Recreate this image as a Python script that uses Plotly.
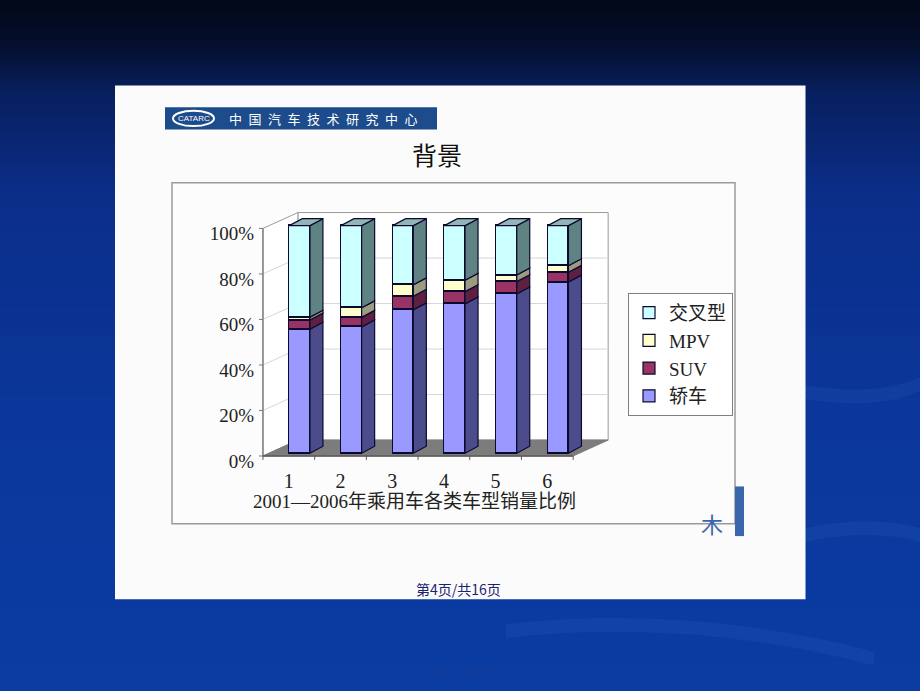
import plotly.graph_objects as go

# ---------------- data ----------------
categories = ["1", "2", "3", "4", "5", "6"]
series_names = ["轿车", "SUV", "MPV", "交叉型"]
sedan = [54.5, 55.5, 63.0, 65.6, 70.0, 75.2]
suv = [4.0, 4.2, 6.0, 5.4, 5.4, 4.3]
mpv = [1.3, 4.2, 5.0, 5.0, 2.9, 2.9]
crossover = [40.2, 36.1, 26.0, 24.0, 21.7, 17.6]
y_ticks = [0, 20, 40, 60, 80, 100]
y_tick_text = ["0%", "20%", "40%", "60%", "80%", "100%"]
x_title = "2001—2006年乘用车各类车型销量比例"

front_colors = ["#9999ff", "#993366", "#ffffcc", "#ccffff"]
side_colors = ["#4c4c8c", "#5e1f40", "#9c9c7e", "#5f8282"]
top_color = "#94b5b5"
edge = "#0a0a30"

W, H = 920, 691

# ---------------- pixel <-> axis geometry (style) ----------------
XC0, XS = 299.6, 51.7      # px of first bar centre, px per category
Y0, YS = 456.5, 2.292      # px of 0 %, px per percent
DOM_X = (255, 625)
DOM_Y = (203, 470)
xrange_ = [(DOM_X[0] - XC0) / XS, (DOM_X[1] - XC0) / XS]
yrange_ = [(Y0 - DOM_Y[1]) / YS, (Y0 - DOM_Y[0]) / YS]

BW = 0.2                    # half bar width (category units)
DDX, DDY = 13 / XS, 7 / YS  # bar depth
WDX, WDY = 35 / XS, 16 / YS  # wall depth
FS = -10.8 / XS             # front-plane shift (x)
FY = -2.8 / YS              # front-plane shift (y)
n = len(categories)
FPL, FPR = -0.5 + FS, n - 0.5 + FS


def px(x):
    return x / W


def py(y):
    return 1 - y / H


def poly(pts):
    return "M " + " L ".join(f"{a:.4f},{b:.4f}" for a, b in pts) + " Z"


shapes = []
annotations = []

# background gradient
stops = [(0, (2, 8, 24)), (40, (4, 14, 42)), (95, (8, 32, 95)), (200, (11, 46, 138)),
         (420, (11, 55, 155)), (691, (10, 60, 162))]


def grad(y):
    for (y1, c1), (y2, c2) in zip(stops[:-1], stops[1:]):
        if y1 <= y <= y2:
            t = (y - y1) / (y2 - y1)
            return tuple(int(round(a + (b - a) * t)) for a, b in zip(c1, c2))
    return stops[-1][1]


step = 5
for y in range(0, H, step):
    c = grad(y + step / 2)
    shapes.append(dict(type="rect", xref="paper", yref="paper", x0=0, x1=1,
                       y0=py(y + step + 0.5), y1=py(y), fillcolor=f"rgb{c}",
                       line=dict(width=0), layer="below"))

# decorative swooshes
swoosh = [
    "M 0.87,0.44 Q 0.95,0.42 1.0,0.45 L 1.0,0.43 Q 0.95,0.40 0.87,0.42 Z",
    "M 0.80,0.20 Q 0.92,0.26 1.0,0.23 L 1.0,0.21 Q 0.92,0.24 0.80,0.18 Z",
    "M 0.55,0.09 Q 0.75,0.12 0.95,0.05 L 0.95,0.03 Q 0.75,0.10 0.55,0.07 Z",
]
for p in swoosh:
    shapes.append(dict(type="path", xref="paper", yref="paper", path=p,
                       fillcolor="rgba(90,140,225,0.10)", line=dict(width=0), layer="below"))

# white slide
shapes.append(dict(type="rect", xref="paper", yref="paper", x0=px(115), x1=px(805.5),
                   y0=py(603.5), y1=py(86), fillcolor="#fbfbfb", line=dict(width=0), layer="below"))
# header bar
shapes.append(dict(type="rect", xref="paper", yref="paper", x0=px(165), x1=px(437),
                   y0=py(130.5), y1=py(108), fillcolor="#1d4c8c", line=dict(width=0), layer="below"))
shapes.append(dict(type="circle", xref="paper", yref="paper", x0=px(173), x1=px(214),
                   y0=py(127), y1=py(111.5), fillcolor="#1d4c8c",
                   line=dict(color="white", width=2), layer="below"))
# chart frame
shapes.append(dict(type="rect", xref="paper", yref="paper", x0=px(172), x1=px(735),
                   y0=py(527.5), y1=py(184), fillcolor="#fcfcfc",
                   line=dict(color="#9a9a9a", width=1.5), layer="below"))
# faint background logo
shapes.append(dict(type="rect", xref="paper", yref="paper", x0=px(735), x1=px(744),
                   y0=py(540), y1=py(490), fillcolor="#3a66ac", line=dict(width=0), layer="below"))

# ---------------- 3D box (data coordinates) ----------------
gl = dict(xref="x", yref="y", layer="below")
# back wall
shapes.append(dict(type="path", path=poly([(FPL + WDX, FY + WDY), (FPR + WDX, FY + WDY),
                                           (FPR + WDX, 100 + FY + WDY), (FPL + WDX, 100 + FY + WDY)]),
                   fillcolor="white", line=dict(color="#9a9a9a", width=1), **gl))
# left wall
shapes.append(dict(type="path", path=poly([(FPL, FY), (FPL, 100 + FY),
                                           (FPL + WDX, 100 + FY + WDY), (FPL + WDX, FY + WDY)]),
                   fillcolor="white", line=dict(color="#9a9a9a", width=1), **gl))
# grid lines
for t in y_ticks[1:-1]:
    shapes.append(dict(type="line", x0=FPL + WDX, x1=FPR + WDX, y0=t + FY + WDY, y1=t + FY + WDY,
                       line=dict(color="#d6d6d6", width=1), **gl))
    shapes.append(dict(type="line", x0=FPL, x1=FPL + WDX, y0=t + FY, y1=t + FY + WDY,
                       line=dict(color="#d6d6d6", width=1), **gl))
# floor
shapes.append(dict(type="path", path=poly([(FPL, FY), (FPR, FY), (FPR + WDX, FY + WDY), (FPL + WDX, FY + WDY)]),
                   fillcolor="#7c7c7c", line=dict(color="#7c7c7c", width=1), **gl))
# axes lines
shapes.append(dict(type="line", x0=FPL, x1=FPL, y0=FY, y1=100 + FY,
                   line=dict(color="#7a7a7a", width=1.3), **gl))
shapes.append(dict(type="line", x0=FPL, x1=FPR, y0=FY, y1=FY,
                   line=dict(color="#5a5a5a", width=1.3), **gl))
for t in y_ticks:
    shapes.append(dict(type="line", x0=FPL - 4 / XS, x1=FPL, y0=t + FY, y1=t + FY,
                       line=dict(color="#7a7a7a", width=1), **gl))
for k in range(n + 1):
    shapes.append(dict(type="line", x0=FPL + k, x1=FPL + k, y0=FY, y1=FY - 4 / YS,
                       line=dict(color="#5a5a5a", width=1), **gl))

# ---------------- bars ----------------
xpos = list(range(n))
series = [sedan, suv, mpv, crossover]
fig = go.Figure()
for name, vals, fc in zip(series_names, series, front_colors):
    fig.add_trace(go.Bar(x=xpos, y=vals, name=name, width=2 * BW,
                         marker=dict(color=fc, line=dict(color=edge, width=1.2))))

for i in range(n):
    base = 0.0
    for s, vals in enumerate(series):
        top = base + vals[i]
        xr = i + BW
        shapes.append(dict(type="path", xref="x", yref="y", layer="above",
                           path=poly([(xr, base), (xr, top), (xr + DDX, top + DDY), (xr + DDX, base + DDY)]),
                           fillcolor=side_colors[s], line=dict(color=edge, width=1.2)))
        base = top
    xl = i - BW
    shapes.append(dict(type="path", xref="x", yref="y", layer="above",
                       path=poly([(xl, base), (xl + 2 * BW, base), (xl + 2 * BW + DDX, base + DDY), (xl + DDX, base + DDY)]),
                       fillcolor=top_color, line=dict(color=edge, width=1.2)))

# ---------------- texts ----------------
serif = "Liberation Serif, Noto Sans CJK SC, serif"


def note(x, y, text, font):
    annotations.append(dict(xref="paper", yref="paper", x=px(x), y=py(y), text=text,
                            xanchor="center", yanchor="middle", showarrow=False, font=font))


note(437, 155, "背景", dict(family="Noto Sans CJK SC", size=25, color="#111"))
note(323, 119.5, "\u2002".join("中国汽车技术研究中心"), dict(family="Noto Sans CJK SC", size=13, color="white"))
note(193.5, 119.5, "CATARC", dict(family="Liberation Sans", size=8, color="white"))
note(414.5, 505, x_title, dict(family=serif, size=19, color="#222"))
note(458, 593, "第4页/共16页", dict(family="Noto Sans CJK SC", size=14, color="#1a2370"))
note(460, 675, "第五页，共17页", dict(family="Noto Sans CJK SC", size=10, color="#183a96"))
note(712, 527, "木", dict(family="Noto Sans CJK SC", size=22, color="#3a66ac"))

fig.update_layout(
    width=W, height=H, autosize=False,
    margin=dict(l=0, r=0, t=0, b=0),
    paper_bgcolor="#0b3a9c", plot_bgcolor="rgba(0,0,0,0)",
    barmode="stack", bargap=0,
    shapes=shapes, annotations=annotations,
    xaxis=dict(domain=[px(DOM_X[0]), px(DOM_X[1])], range=xrange_,
               tickvals=[i + FS for i in xpos], ticktext=categories,
               showgrid=False, zeroline=False, showline=False, ticks="",
               tickfont=dict(family=serif, size=20, color="#222")),
    yaxis=dict(domain=[py(DOM_Y[1]), py(DOM_Y[0])], range=yrange_,
               tickvals=[t - 3.5 for t in y_ticks], ticktext=y_tick_text,
               showgrid=False, zeroline=False, showline=False, ticks="",
               tickfont=dict(family=serif, size=19, color="#222")),
    legend=dict(x=px(628), y=py(295), xanchor="left", yanchor="top",
                traceorder="reversed", bgcolor="white", bordercolor="#808080", borderwidth=1,
                font=dict(family=serif, size=19, color="#222"), itemclick=False),
    showlegend=True,
)

fig.write_html("out.html", config={"displayModeBar": False},
               post_script="document.body.style.margin='0';")
